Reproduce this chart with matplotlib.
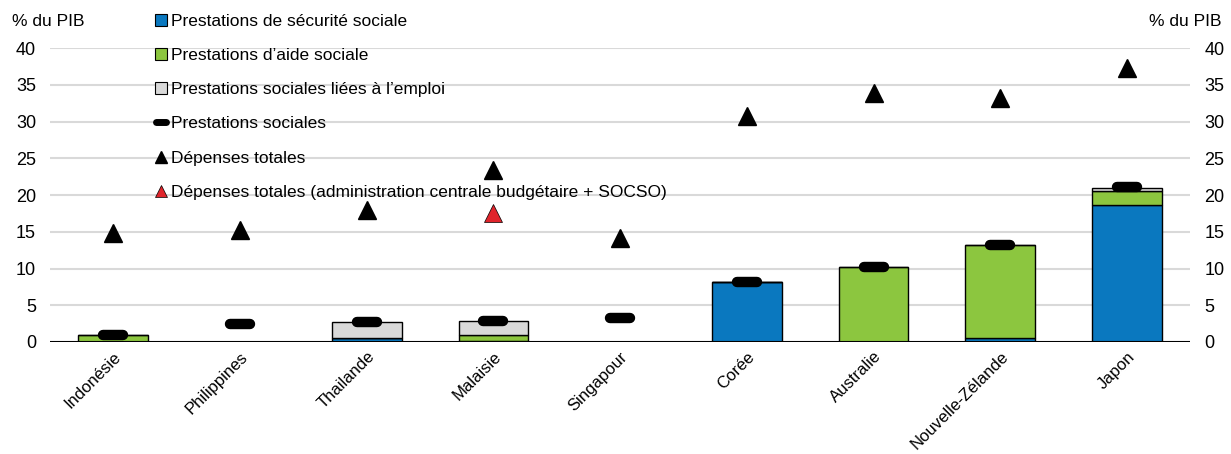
import numpy as np
import matplotlib.pyplot as plt
from matplotlib.lines import Line2D
from matplotlib.markers import MarkerStyle

plt.rcParams['font.family'] = ['Liberation Sans', 'DejaVu Sans']

countries = ["Indonésie", "Philippines", "Thailande", "Malaisie", "Singapour",
             "Corée", "Australie", "Nouvelle-Zélande", "Japon"]
secu_sociale = [0.0, 0.0, 0.6, 0.15, 0.0, 8.1, 0.0, 0.6, 18.7]
aide_sociale = [0.9, 0.0, 0.0, 0.85, 0.0, 0.0, 10.2, 12.6, 1.9]
liees_emploi = [0.0, 0.0, 2.1, 1.85, 0.0, 0.0, 0.0, 0.0, 0.4]
prestations = [0.9, 2.5, 2.7, 2.8, 3.3, 8.1, 10.2, 13.2, 21.1]
depenses = [14.8, 15.2, 18.0, 23.4, 14.2, 30.7, 33.9, 33.2, 37.3]
depenses_malaisie_central = 17.5

blue = "#0A78BF"
green = "#8CC63F"
grey = "#D9D9D9"
red = "#E0242B"

x = np.arange(len(countries))
w = 0.55

fig = plt.figure(figsize=(12.31, 4.54), dpi=100)
ax = fig.add_axes([0.0406, 0.2467, 0.9264, 0.6473])

for y in range(5, 45, 5):
    ax.axhline(y, color="#D9D9D9", lw=1.5, zorder=0)

b1 = np.array(secu_sociale)
b2 = np.array(aide_sociale)
b3 = np.array(liees_emploi)
ax.bar(x, b1, w, color=blue, edgecolor="black", lw=1, zorder=2)
ax.bar(x, b2, w, bottom=b1, color=green, edgecolor="black", lw=1, zorder=2)
ax.bar(x, b3, w, bottom=b1 + b2, color=grey, edgecolor="black", lw=1, zorder=2)
ax.axhline(0, color="black", lw=1.5, zorder=3)

# rounded black dash for total social benefits
dash = MarkerStyle("_", capstyle="round")
ax.plot(x, prestations, ls="none", marker=dash, ms=14.5, mew=7.5, color="black", zorder=4)
ax.plot(x, depenses, ls="none", marker="^", ms=13.5, color="black", zorder=4)
ax.plot([3], [depenses_malaisie_central], ls="none", marker="^", ms=13.5,
        color=red, mec="black", mew=0.5, zorder=4)

ax.set_xlim(-0.5, len(countries) - 0.5)
ax.set_ylim(0, 40)
ax.set_yticks(range(0, 45, 5))
for s in ax.spines.values():
    s.set_visible(False)
ax.tick_params(axis="both", length=0, labelsize=13)
ax.tick_params(axis="y", pad=10)
ax.set_xticks(x)
ax.set_xticklabels(countries, rotation=45, ha="right", rotation_mode="anchor", fontsize=12)
ax.tick_params(axis="x", pad=5)

ax2 = ax.twinx()
ax2.set_ylim(0, 40)
ax2.set_yticks(range(0, 45, 5))
for s in ax2.spines.values():
    s.set_visible(False)
ax2.tick_params(axis="y", length=0, labelsize=13, pad=10)

fig.text(0.010, 0.943, "% du PIB", fontsize=12.5)
fig.text(0.992, 0.943, "% du PIB", fontsize=12.5, ha="right")

handles = [
    Line2D([], [], ls="none", marker="s", ms=8, mfc=blue, mec="black", mew=0.8),
    Line2D([], [], ls="none", marker="s", ms=8, mfc=green, mec="black", mew=0.8),
    Line2D([], [], ls="none", marker="s", ms=8, mfc=grey, mec="black", mew=0.8),
    Line2D([], [], ls="none", marker=dash, ms=7, mew=5, color="black"),
    Line2D([], [], ls="none", marker="^", ms=8, color="black"),
    Line2D([], [], ls="none", marker="^", ms=8, mfc=red, mec="black", mew=0.5),
]
labels = ["Prestations de sécurité sociale", "Prestations d’aide sociale",
          "Prestations sociales liées à l’emploi", "Prestations sociales",
          "Dépenses totales",
          "Dépenses totales (administration centrale budgétaire + SOCSO)"]
leg = fig.legend(handles, labels, loc="upper left", bbox_to_anchor=(0.117, 0.993),
                 frameon=False, fontsize=12.5, handlelength=0.8, handletextpad=0.15,
                 labelspacing=1.1, borderaxespad=0.2)

fig.savefig("out.png", dpi=100)
